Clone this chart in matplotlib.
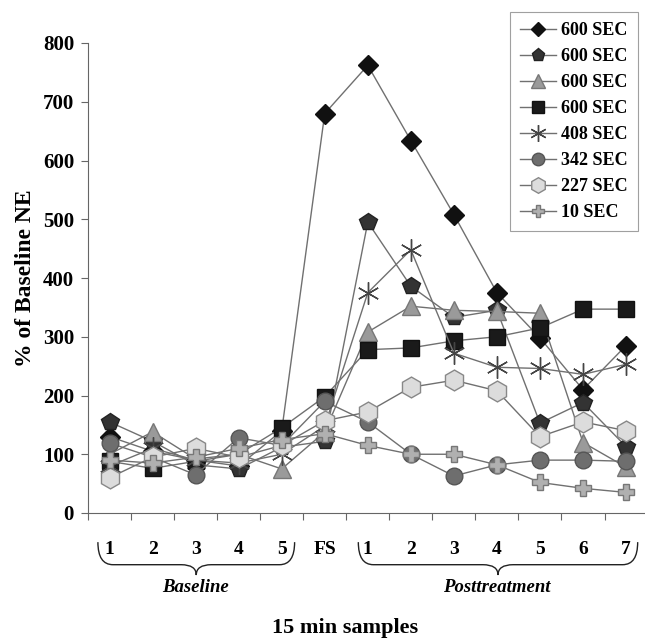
import numpy as np
import matplotlib.pyplot as plt
from matplotlib.path import Path
from matplotlib.patches import PathPatch
import matplotlib.transforms as mtransforms

plt.rcParams['font.family'] = ['Liberation Serif', 'DejaVu Serif']
plt.rcParams['font.weight'] = 'bold'
plt.rcParams['axes.labelweight'] = 'bold'

# Dane (13 probek: 5 baseline, FS, 7 posttreatment)
tick_labels = ['1', '2', '3', '4', '5', 'FS', '1', '2', '3', '4', '5', '6', '7']
series_labels = ['600 SEC', '600 SEC', '600 SEC', '600 SEC', '408 SEC',
                 '342 SEC', '227 SEC', '10 SEC']

diamond = [130, 105, 90, 80, 140, 680, 762, 634, 508, 375, 298, 210, 285]
pentagon = [155, 122, 82, 75, 112, 122, 495, 386, 333, 345, 153, 188, 113]
triangle = [100, 138, 92, 100, 75, 138, 308, 352, 345, 343, 340, 120, 78]
square = [88, 76, 88, 100, 145, 198, 278, 281, 293, 300, 315, 347, 347]
asterisk = [80, 110, 90, 85, 100, 148, 375, 448, 272, 248, 246, 236, 253]
circle = [119, 95, 65, 128, 115, 190, 155, 100, 63, 82, 90, 90, 88]
hexagon = [60, 95, 110, 95, 115, 157, 172, 214, 226, 208, 130, 155, 140]
cross = [90, 85, 95, 110, 125, 135, 115, 100, 100, 82, 52, 42, 35]

data = [diamond, pentagon, triangle, square, asterisk, circle, hexagon, cross]

# Styl markerow
styles = [
    dict(marker='D', ms=10, mfc='#111111', mec='#111111'),
    dict(marker='p', ms=13, mfc='#333333', mec='#222222'),
    dict(marker='^', ms=13, mfc='#9a9a9a', mec='#777777'),
    dict(marker='s', ms=11, mfc='#1a1a1a', mec='#111111'),
    dict(marker=(6, 2, 0), ms=16, mfc='none', mec='#444444', mew=1.0),
    dict(marker='o', ms=12, mfc='#6e6e6e', mec='#555555'),
    dict(marker='h', ms=15, mfc='#dcdcdc', mec='#888888'),
    dict(marker='P', ms=12, mfc='#b0b0b0', mec='#777777'),
]

fig = plt.figure(figsize=(6.45, 6.44), dpi=100)
ax = fig.add_axes([88 / 645, 131 / 644, 557 / 645, 470 / 644])

x = np.arange(len(tick_labels))
handles = []
for vals, st, lab in zip(data, styles, series_labels):
    h, = ax.plot(x, vals, color='#707070', lw=1.0, label=lab, clip_on=False, **st)
    handles.append(h)

ax.set_xlim(-0.5, 12.44)
ax.set_ylim(0, 800)
ax.set_yticks(range(0, 801, 100))
ax.set_xticks(np.arange(-0.5, 12, 1.0))
ax.set_xticklabels([])
ax.set_xticks(x, minor=True)
ax.set_xticklabels(tick_labels, minor=True)
ax.tick_params(axis='x', which='minor', length=0, pad=20, labelsize=14)
ax.tick_params(axis='x', which='major', length=5, width=0.8, color='#666666')
ax.tick_params(axis='y', length=5, width=0.8, color='#666666', labelsize=15, pad=5)
for s in ['top', 'right']:
    ax.spines[s].set_visible(False)
for s in ['left', 'bottom']:
    ax.spines[s].set_color('#666666')
    ax.spines[s].set_linewidth(0.8)

ax.set_ylabel('% of Baseline NE', fontsize=17, labelpad=5)

# Klamry pod osia
trans = mtransforms.blended_transform_factory(ax.transData, ax.transAxes)


def brace(x0, x1, ytop, ymid, ycusp, r):
    xm = (x0 + x1) / 2
    verts = [(x0, ytop), (x0, ymid), (x0 + r, ymid),
             (xm - r, ymid), (xm, ymid), (xm, ycusp),
             (xm, ymid), (xm + r, ymid),
             (x1 - r, ymid), (x1, ymid), (x1, ytop)]
    codes = [Path.MOVETO, Path.CURVE3, Path.CURVE3,
             Path.LINETO, Path.CURVE3, Path.CURVE3,
             Path.CURVE3, Path.CURVE3,
             Path.LINETO, Path.CURVE3, Path.CURVE3]
    ax.add_patch(PathPatch(Path(verts, codes), fc='none', ec='#222222',
                           lw=1.0, transform=trans, clip_on=False))


brace(-0.27, 4.3, -0.062, -0.11, -0.132, 0.35)
brace(5.78, 12.27, -0.062, -0.11, -0.132, 0.35)

ax.text(2.0, -0.14, 'Baseline', transform=trans, ha='center', va='top',
        fontsize=13.5, style='italic')
ax.text(9.0, -0.14, 'Posttreatment', transform=trans, ha='center', va='top',
        fontsize=13.5, style='italic')
fig.text(345 / 645, 1 - 628 / 644, '15 min samples', ha='center', va='center',
         fontsize=16)

leg = fig.legend(handles=handles, loc='upper left',
                 bbox_to_anchor=(510 / 645, 1 - 12 / 644), borderaxespad=0,
                 fontsize=13, frameon=True, fancybox=False, edgecolor='#888888',
                 handlelength=2.0, labelspacing=0.5, borderpad=0.55,
                 handletextpad=0.3, markerscale=0.75)
leg.get_frame().set_linewidth(0.8)

fig.savefig('out.png', dpi=100)
